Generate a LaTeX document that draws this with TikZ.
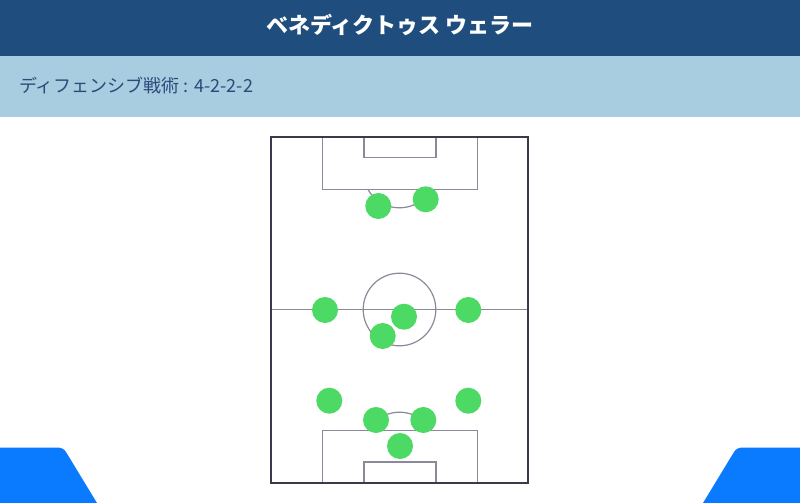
\documentclass[tikz,border=0pt]{standalone}
\usepackage{fontspec}
\newfontfamily\cjk{Noto Sans CJK JP}
\definecolor{hdark}{HTML}{1F4E7E}
\definecolor{hlight}{HTML}{A8CCE0}
\definecolor{subtext}{HTML}{2B4A7A}
\definecolor{pline}{HTML}{8A8A98}
\definecolor{pouter}{HTML}{3A3A4C}
\definecolor{pgreen}{HTML}{4CD964}
\definecolor{cblue}{HTML}{0A7AFF}
\tikzset{
  player/.style={circle, fill=pgreen, draw=none, minimum size=26pt, inner sep=0pt},
  inner/.style={draw=pline, line width=1.2pt},
  outer/.style={draw=pouter, line width=1.5pt}
}
\begin{document}
\begin{tikzpicture}[x=1pt,y=-1pt]
\useasboundingbox (0,0) rectangle (800,503);
\fill[white] (0,0) rectangle (800,503);
% header
\fill[hdark] (0,0) rectangle (800,56);
\fill[hlight] (0,56) rectangle (800,117);
\node[text=white, font=\cjk\bfseries\fontsize{22}{25}\selectfont] (title) at (400,25) {ベネディクトゥス ウェラー};
\node[anchor=west, text=subtext, font=\cjk\fontsize{18}{22}\selectfont, inner sep=0pt] (sub) at (19,86) {ディフェンシブ戦術 : 4-2-2-2};
% pitch
\draw[inner] (271,309.5) -- (528,309.5);
\draw[inner] (399.5,309.5) circle (36.3);
\draw[inner] (322.7,137) rectangle (477.3,189.3);
\draw[inner] (364,137) rectangle (436,157.3);
\draw[inner] (322.7,483) rectangle (477.3,430.7);
\draw[inner] (364,483) rectangle (436,462);
\begin{scope}
\clip (271,189.3) rectangle (528,260);
\draw[inner] (399.5,171.5) circle (36.3);
\end{scope}
\begin{scope}
\clip (271,360) rectangle (528,430.7);
\draw[inner] (399.5,448.5) circle (36.3);
\end{scope}
\draw[outer] (271,137) rectangle (528,483);
% players
\node[player] (p1) at (378.3,206) {};
\node[player] (p2) at (425.7,199.3) {};
\node[player] (p3) at (325,310) {};
\node[player] (p4) at (404,316.7) {};
\node[player] (p5) at (382.7,336) {};
\node[player] (p6) at (468.3,310) {};
\node[player] (p7) at (329.3,400.7) {};
\node[player] (p8) at (468.3,400.7) {};
\node[player] (p9) at (376,420) {};
\node[player] (p10) at (423.3,420) {};
\node[player] (p11) at (400,446) {};
% corner shapes
\fill[cblue] (0,503) -- (0,447.5) -- (56,447.5) to[out=0,in=120] (66,452) -- (97,503) -- cycle;
\fill[cblue] (800,503) -- (800,447.5) -- (744,447.5) to[out=180,in=60] (734,452) -- (703,503) -- cycle;
\end{tikzpicture}
\end{document}
